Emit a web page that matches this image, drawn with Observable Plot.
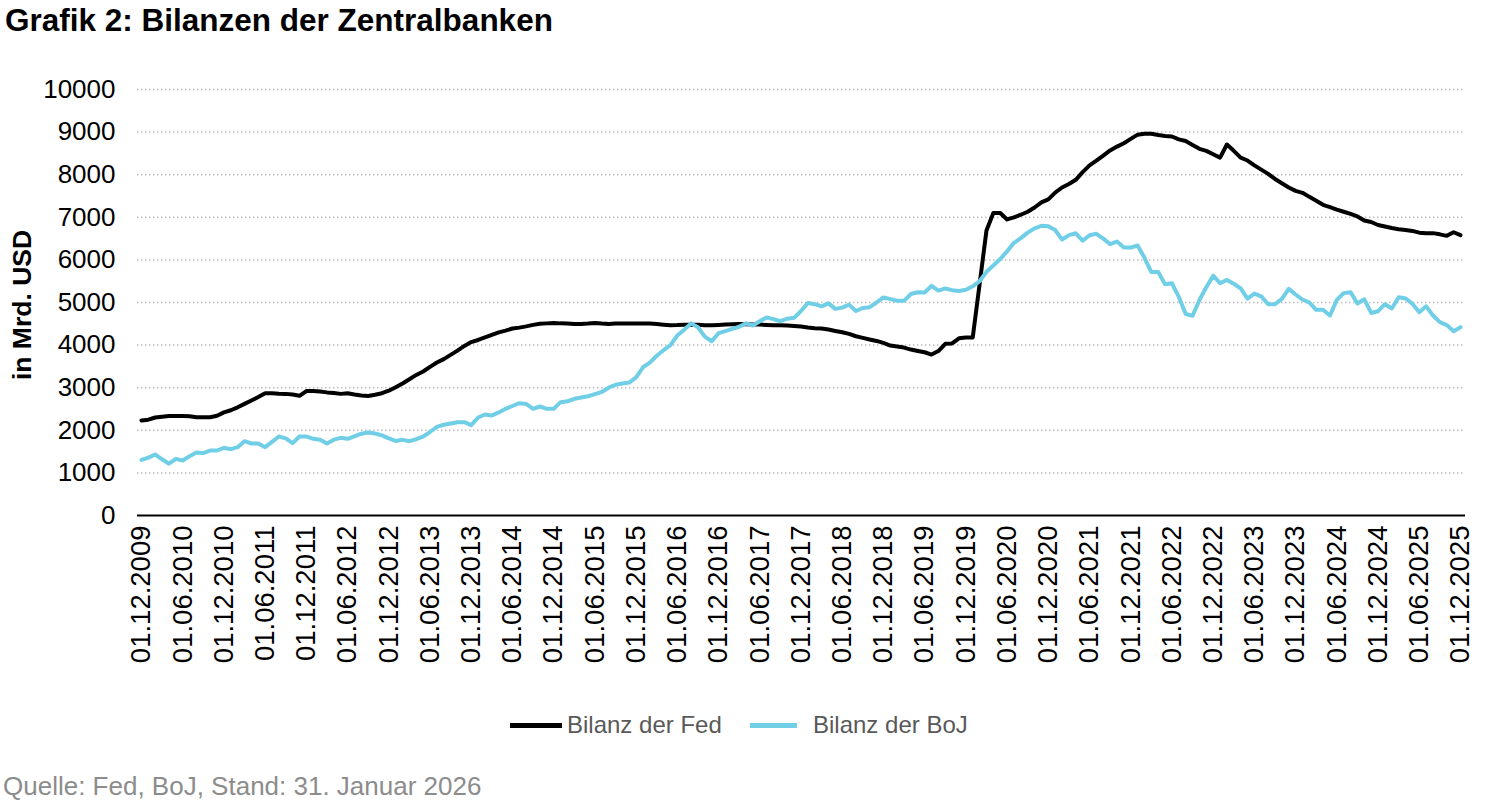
<!DOCTYPE html>
<html><head><meta charset="utf-8">
<script src="https://cdn.jsdelivr.net/npm/d3@7"></script>
<script src="https://cdn.jsdelivr.net/npm/@observablehq/plot@0.6"></script>
<style>
body{margin:0;background:#fff;font-family:"Liberation Sans",Arial,sans-serif;}
#wrap{position:relative;width:1500px;height:803px;overflow:hidden;background:#fff;}
#title{position:absolute;left:5px;top:2px;font-weight:bold;font-size:31.5px;color:#000;white-space:nowrap;}
#ylabel{position:absolute;left:22px;top:305px;transform:translate(-50%,-50%) rotate(-90deg);font-weight:bold;font-size:26.5px;white-space:nowrap;color:#000;}
#chart{position:absolute;left:0;top:0;}
.sw{position:absolute;height:5px;top:723px;}
.lt{position:absolute;top:711px;font-size:24px;color:#595959;white-space:nowrap;}
#caption{position:absolute;left:3px;top:771px;font-size:26px;color:#8c8c8c;white-space:nowrap;}
</style></head>
<body><div id="wrap">
<div id="chart"></div>
<div id="title">Grafik 2: Bilanzen der Zentralbanken</div>
<div id="ylabel">in Mrd. USD</div>
<div class="sw" style="left:510px;width:52px;background:#000"></div>
<div class="lt" style="left:567px">Bilanz der Fed</div>
<div class="sw" style="left:750px;width:47px;background:#70cfe6"></div>
<div class="lt" style="left:813px">Bilanz der BoJ</div>
<div id="caption">Quelle: Fed, BoJ, Stand: 31. Januar 2026</div>
</div>
<script>
// Monthly values, Dec 2009 .. Dec 2025 (bn USD)
const fed = [
2230,2250,2300,2320,2335,2335,2335,2330,2305,2305,
2305,2340,2420,2470,2540,2620,2700,2780,2870,2870,
2860,2855,2840,2810,2920,2920,2910,2890,2875,2855,
2870,2840,2815,2805,2835,2870,2930,3010,3100,3200,
3300,3380,3490,3590,3670,3770,3870,3980,4070,4120,
4180,4240,4300,4340,4390,4410,4440,4475,4500,4510,
4520,4510,4505,4495,4495,4505,4520,4505,4495,4505,
4505,4505,4505,4505,4505,4495,4480,4465,4470,4480,
4480,4475,4466,4466,4474,4482,4490,4498,4490,4482,
4482,4474,4466,4466,4458,4450,4435,4412,4396,4388,
4365,4333,4300,4263,4208,4169,4130,4098,4051,3990,
3965,3942,3895,3863,3832,3778,3860,4030,4040,4160,
4180,4180,5430,6690,7100,7100,6950,7000,7060,7130,
7230,7350,7420,7580,7700,7780,7880,8060,8220,8330,
8450,8570,8660,8740,8840,8940,8960,8960,8930,8910,
8897,8830,8790,8700,8607,8560,8480,8400,8709,8560,
8400,8333,8220,8120,8020,7900,7800,7700,7620,7575,
7480,7390,7293,7240,7180,7130,7080,7020,6925,6890,
6820,6784,6750,6720,6700,6680,6640,6625,6628,6600,
6565,6650,6580];
const boj = [
1307,1360,1432,1320,1215,1330,1291,1390,1480,1464,
1526,1526,1589,1557,1604,1745,1690,1690,1604,1730,
1855,1810,1698,1855,1855,1800,1778,1690,1780,1823,
1800,1860,1920,1948,1925,1880,1810,1750,1776,1745,
1790,1850,1960,2080,2130,2160,2191,2190,2120,2300,
2371,2347,2420,2504,2570,2636,2620,2504,2559,2504,
2504,2660,2680,2740,2770,2800,2850,2900,3000,3070,
3100,3120,3240,3480,3590,3750,3880,4000,4225,4360,
4510,4420,4200,4090,4280,4330,4380,4430,4510,4460,
4560,4650,4610,4560,4620,4640,4800,4990,4960,4910,
4980,4850,4880,4950,4800,4870,4890,5000,5120,5080,
5040,5040,5200,5240,5235,5390,5280,5330,5290,5270,
5300,5380,5500,5720,5870,6020,6200,6400,6510,6640,
6740,6800,6790,6700,6480,6580,6625,6450,6580,6612,
6500,6370,6430,6290,6290,6338,6050,5715,5715,5430,
5450,5130,4730,4690,5060,5360,5630,5453,5530,5440,
5330,5090,5210,5145,4960,4960,5086,5320,5188,5070,
5000,4828,4828,4695,5060,5220,5243,4975,5075,4755,
4796,4960,4860,5125,5095,4970,4773,4910,4695,4538,
4470,4327,4420];
const seriesNames = ["Bilanz der Fed", "Bilanz der BoJ"];
const seriesColors = ["#000000", "#70cfe6"];
const yTicks = [0,1000,2000,3000,4000,5000,6000,7000,8000,9000,10000];

const startDate = new Date(Date.UTC(2009, 11, 1));
const dates = fed.map((_, i) => d3.utcMonth.offset(startDate, i));
const fmt = d3.utcFormat("%d.%m.%Y");
const xTicks = d3.range(0, dates.length, 6);

const rows = [
  ...fed.map((v, i) => ({i, v, s: seriesNames[0]})),
  ...boj.map((v, i) => ({i, v, s: seriesNames[1]}))
];

const chart = Plot.plot({
  width: 1500, height: 680,
  marginTop: 89, marginBottom: 165, marginLeft: 137, marginRight: 35,
  style: {fontFamily: "Liberation Sans, Arial, sans-serif", fontSize: "25px", color: "#000", background: "transparent"},
  x: {type: "linear", domain: [-0.58, 192.73], label: null},
  y: {domain: [0, 10000], label: null},
  color: {domain: seriesNames, range: seriesColors},
  marks: [
    Plot.ruleY(yTicks.filter(d => d > 0), {stroke: "#bdbdbd", strokeWidth: 1.5, strokeDasharray: "1.5,2.5"}),
    Plot.ruleY([0], {stroke: "#000", strokeWidth: 1.8}),
    Plot.axisX({ticks: xTicks, tickFormat: i => fmt(dates[i]), tickRotate: -90, tickSize: 0, tickPadding: 10, fontSize: 27.5, label: null}),
    Plot.axisY({ticks: yTicks, tickFormat: d => String(d), tickSize: 0, tickPadding: 22, fontSize: 26, label: null}),
    Plot.lineY(rows, {x: "i", y: "v", z: "s", stroke: "s", strokeWidth: 4, strokeLinejoin: "round", strokeLinecap: "round"})
  ]
});
document.getElementById("chart").appendChild(chart);
</script>
</body></html>
